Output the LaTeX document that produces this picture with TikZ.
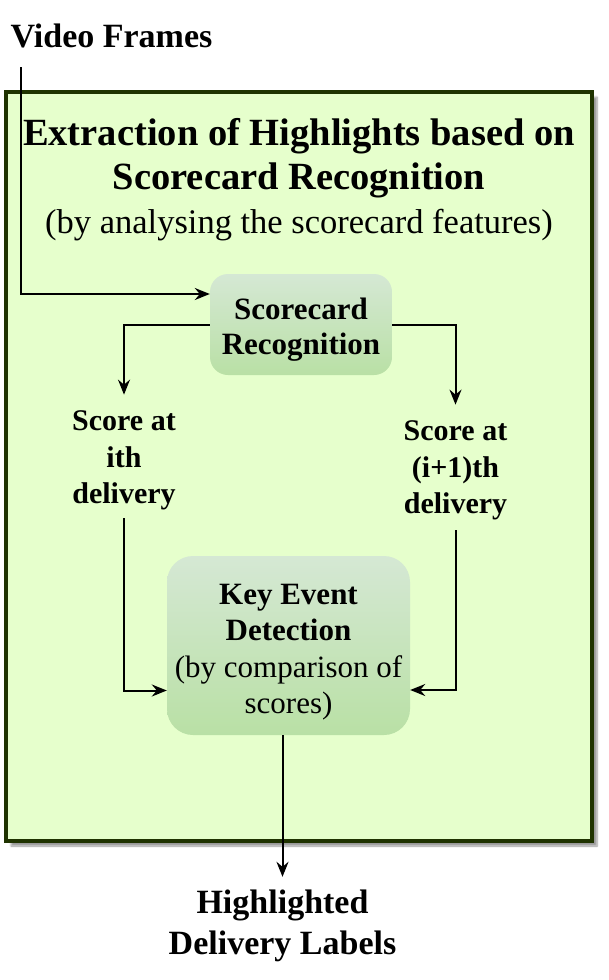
\documentclass[tikz,border=0pt]{standalone}
\usepackage{fontspec}
\setmainfont{Liberation Serif}
\usetikzlibrary{arrows.meta,shadows.blur,calc}
\definecolor{contfill}{HTML}{E6FFCC}
\definecolor{contdraw}{HTML}{1F3300}
\definecolor{gtop}{HTML}{D5E8D4}
\definecolor{gbot}{HTML}{B9E0A5}
\tikzset{
  arr/.style={draw=black, line width=2pt, -{Stealth[length=15pt,width=12pt,inset=5pt]}},
  gbox/.style={rounded corners=18pt, top color=gtop, bottom color=gbot, draw=none, align=center, inner sep=0pt},
  lbl/.style={align=center, inner sep=0pt, font=\bfseries\fontsize{30}{36.5}\selectfont},
  outer/.style={align=center, inner sep=0pt, font=\bfseries\fontsize{34}{41}\selectfont}
}
\begin{document}
\begin{tikzpicture}[x=1pt,y=-1pt]
\useasboundingbox (0,0) rectangle (608,980);
% container
\node[draw=contdraw, line width=4pt, fill=contfill, minimum width=586pt, minimum height=749pt,
      blur shadow={shadow xshift=5pt, shadow yshift=-5pt, shadow blur steps=6, shadow opacity=40}] (cont) at (299,466.5) {};
% title
\node[align=center, inner sep=0pt, font=\bfseries\fontsize{38.5}{44}\selectfont] (title) at (299,158) {Extraction of Highlights based on\\Scorecard Recognition};
\node[inner sep=0pt, font=\fontsize{34.5}{40}\selectfont] (sub) at (299,225) {(by analysing the scorecard features)};
% outside labels
\node[outer] (vf) at (111.5,36) {Video Frames};
\node[outer] (hl) at (282.5,926) {Highlighted\\Delivery Labels};
% boxes
\node[gbox, minimum width=182pt, minimum height=101pt, font=\bfseries\fontsize{31}{35}\selectfont] (sc) at (301,324.5) {\rule{0pt}{31pt}Scorecard\\Recognition};
\node[gbox, rounded corners=26pt, minimum width=243pt, minimum height=179pt, font=\fontsize{31}{36.5}\selectfont] (key) at (288.5,645.5) {\rule{0pt}{34pt}\bfseries Key Event\\\bfseries Detection\\\mdseries (by comparison of\\\mdseries scores)};
% score labels
\node[lbl] (ith) at (124,460.5) {Score at\\ith\\delivery};
\node[lbl] (ip1) at (455.5,470.5) {Score at\\(i+1)th\\delivery};
% connectors
\draw[arr] ([shift={(11,19)}]vf.south west) |- ([yshift=30.5pt]sc.west);
\draw[arr, shorten >=16pt] (sc.west) -| (ith.north);
\draw[arr, shorten >=16pt] (sc.east) -| (ip1.north);
\draw[arr, shorten <=8pt] (ith.south) |- ([yshift=-45pt]key.west);
\draw[arr, shorten <=10pt] (ip1.south) |- ([yshift=-44.5pt]key.east);
\draw[arr, shorten >=13pt] (key.south -| hl.north) -- (hl.north);
\end{tikzpicture}
\end{document}
